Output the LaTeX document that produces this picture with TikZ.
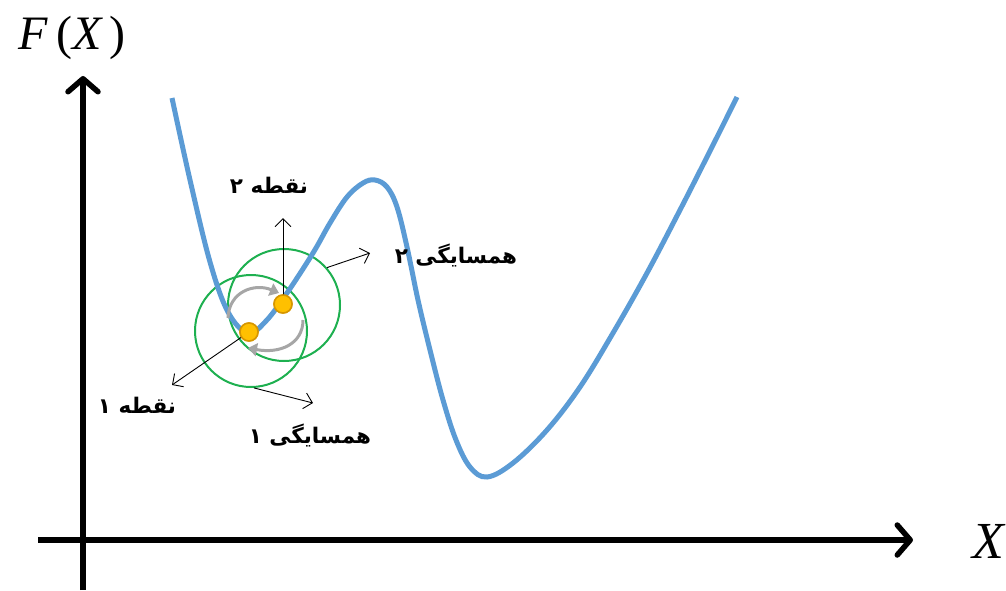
\documentclass[tikz,border=0pt]{standalone}
\usepackage{fontspec}
\setmainfont{Liberation Serif}
\newfontfamily\fa[Script=Arabic]{DejaVu Sans}
\TeXXeTstate=1
\usetikzlibrary{arrows.meta}
\definecolor{curveblue}{RGB}{91,155,213}
\definecolor{nbgreen}{RGB}{30,176,80}
\definecolor{ptfill}{RGB}{255,192,0}
\definecolor{ptdraw}{RGB}{214,150,0}
\definecolor{arcgray}{RGB}{166,166,166}
\begin{document}
\begin{tikzpicture}[x=1pt,y=-1pt,
  axis/.style={line width=5.5pt,-{Straight Barb[length=13pt,width=30pt,line cap=round,line join=round]}},
  curveline/.style={curveblue,line width=5pt},
  nbhd/.style={circle,draw=nbgreen,line width=2pt,minimum size=112pt,inner sep=0pt},
  ptnode/.style={circle,fill=ptfill,draw=ptdraw,line width=1.5pt,minimum size=18pt,inner sep=0pt},
  garrow/.style={arcgray,line width=3pt,-{Triangle[length=9pt,width=13pt]}},
  thinarrow/.style={black,line width=0.9pt,-{Straight Barb[length=8pt,width=16pt]}},
  falabel/.style={font=\fa\bfseries\fontsize{21.5}{25}\selectfont,inner sep=0pt},
  axlabel/.style={font=\fontsize{48}{50}\selectfont,inner sep=0pt}
]
\useasboundingbox (0,0) rectangle (1006,590);

% axes
\coordinate (ybot) at (83,590);
\coordinate (ytop) at (83,76);
\coordinate (xleft) at (38,540);
\coordinate (xright) at (913,540);
\draw[axis] (ybot) -- (ytop);
\draw[axis] (xleft) -- (xright);
\node[axlabel] (fx) at (72,38) {\itshape F\,\upshape(\itshape X\,\upshape)};
\node[axlabel,font=\fontsize{52}{54}\selectfont] (xlab) at (988,541) {\itshape X};

% neighbourhoods
\node[nbhd] (n1) at (251,331) {};
\node[nbhd] (n2) at (284,305) {};

% curve
\draw[curveline] plot[smooth,tension=0.6] coordinates {
 (172,98) (190,180) (210,262) (228,312) (248,333) (266,321) (287,293)
 (313,253) (330,223) (347,197) (363,183) (375,180) (387,187) (397,207)
 (407,247) (418,300) (430,350) (443,400) (456,440) (470,467) (487,477)
 (513,463) (547,430) (580,387) (613,333) (647,273) (680,210) (710,151) (737,97)};

% gray exchange arrows
\coordinate (g1s) at (228,318);
\coordinate (g1e) at (279,293);
\coordinate (g2s) at (303,320);
\coordinate (g2e) at (248,348);
\draw[garrow] (g1s) .. controls (229,291) and (255,283) .. (g1e);
\draw[garrow] (g2s) .. controls (303,344) and (280,354) .. (g2e);

% points
\node[ptnode] (p1) at (249,332) {};
\node[ptnode] (p2) at (283,304) {};

% annotation arrows
\coordinate (a2) at (283,218);
\coordinate (a2n) at (370,253);
\coordinate (a1) at (172,385);
\coordinate (a1n) at (313,403);
\draw[thinarrow] (p2.center) -- (a2);
\draw[thinarrow] (n2.41) -- (a2n);
\draw[thinarrow] (p1.center) -- (a1);
\draw[thinarrow] (n1.-87) -- (a1n);
\node[ptnode] at (p1) {};
\node[ptnode] at (p2) {};

% labels
\node[falabel] (lp2) at (269,185) {\beginR نقطه ۲\endR};
\node[falabel] (ln2) at (456,255) {\beginR همسایگی ۲\endR};
\node[falabel] (lp1) at (137,405) {\beginR نقطه ۱\endR};
\node[falabel] (ln1) at (310,435) {\beginR همسایگی ۱\endR};
\end{tikzpicture}
\end{document}
